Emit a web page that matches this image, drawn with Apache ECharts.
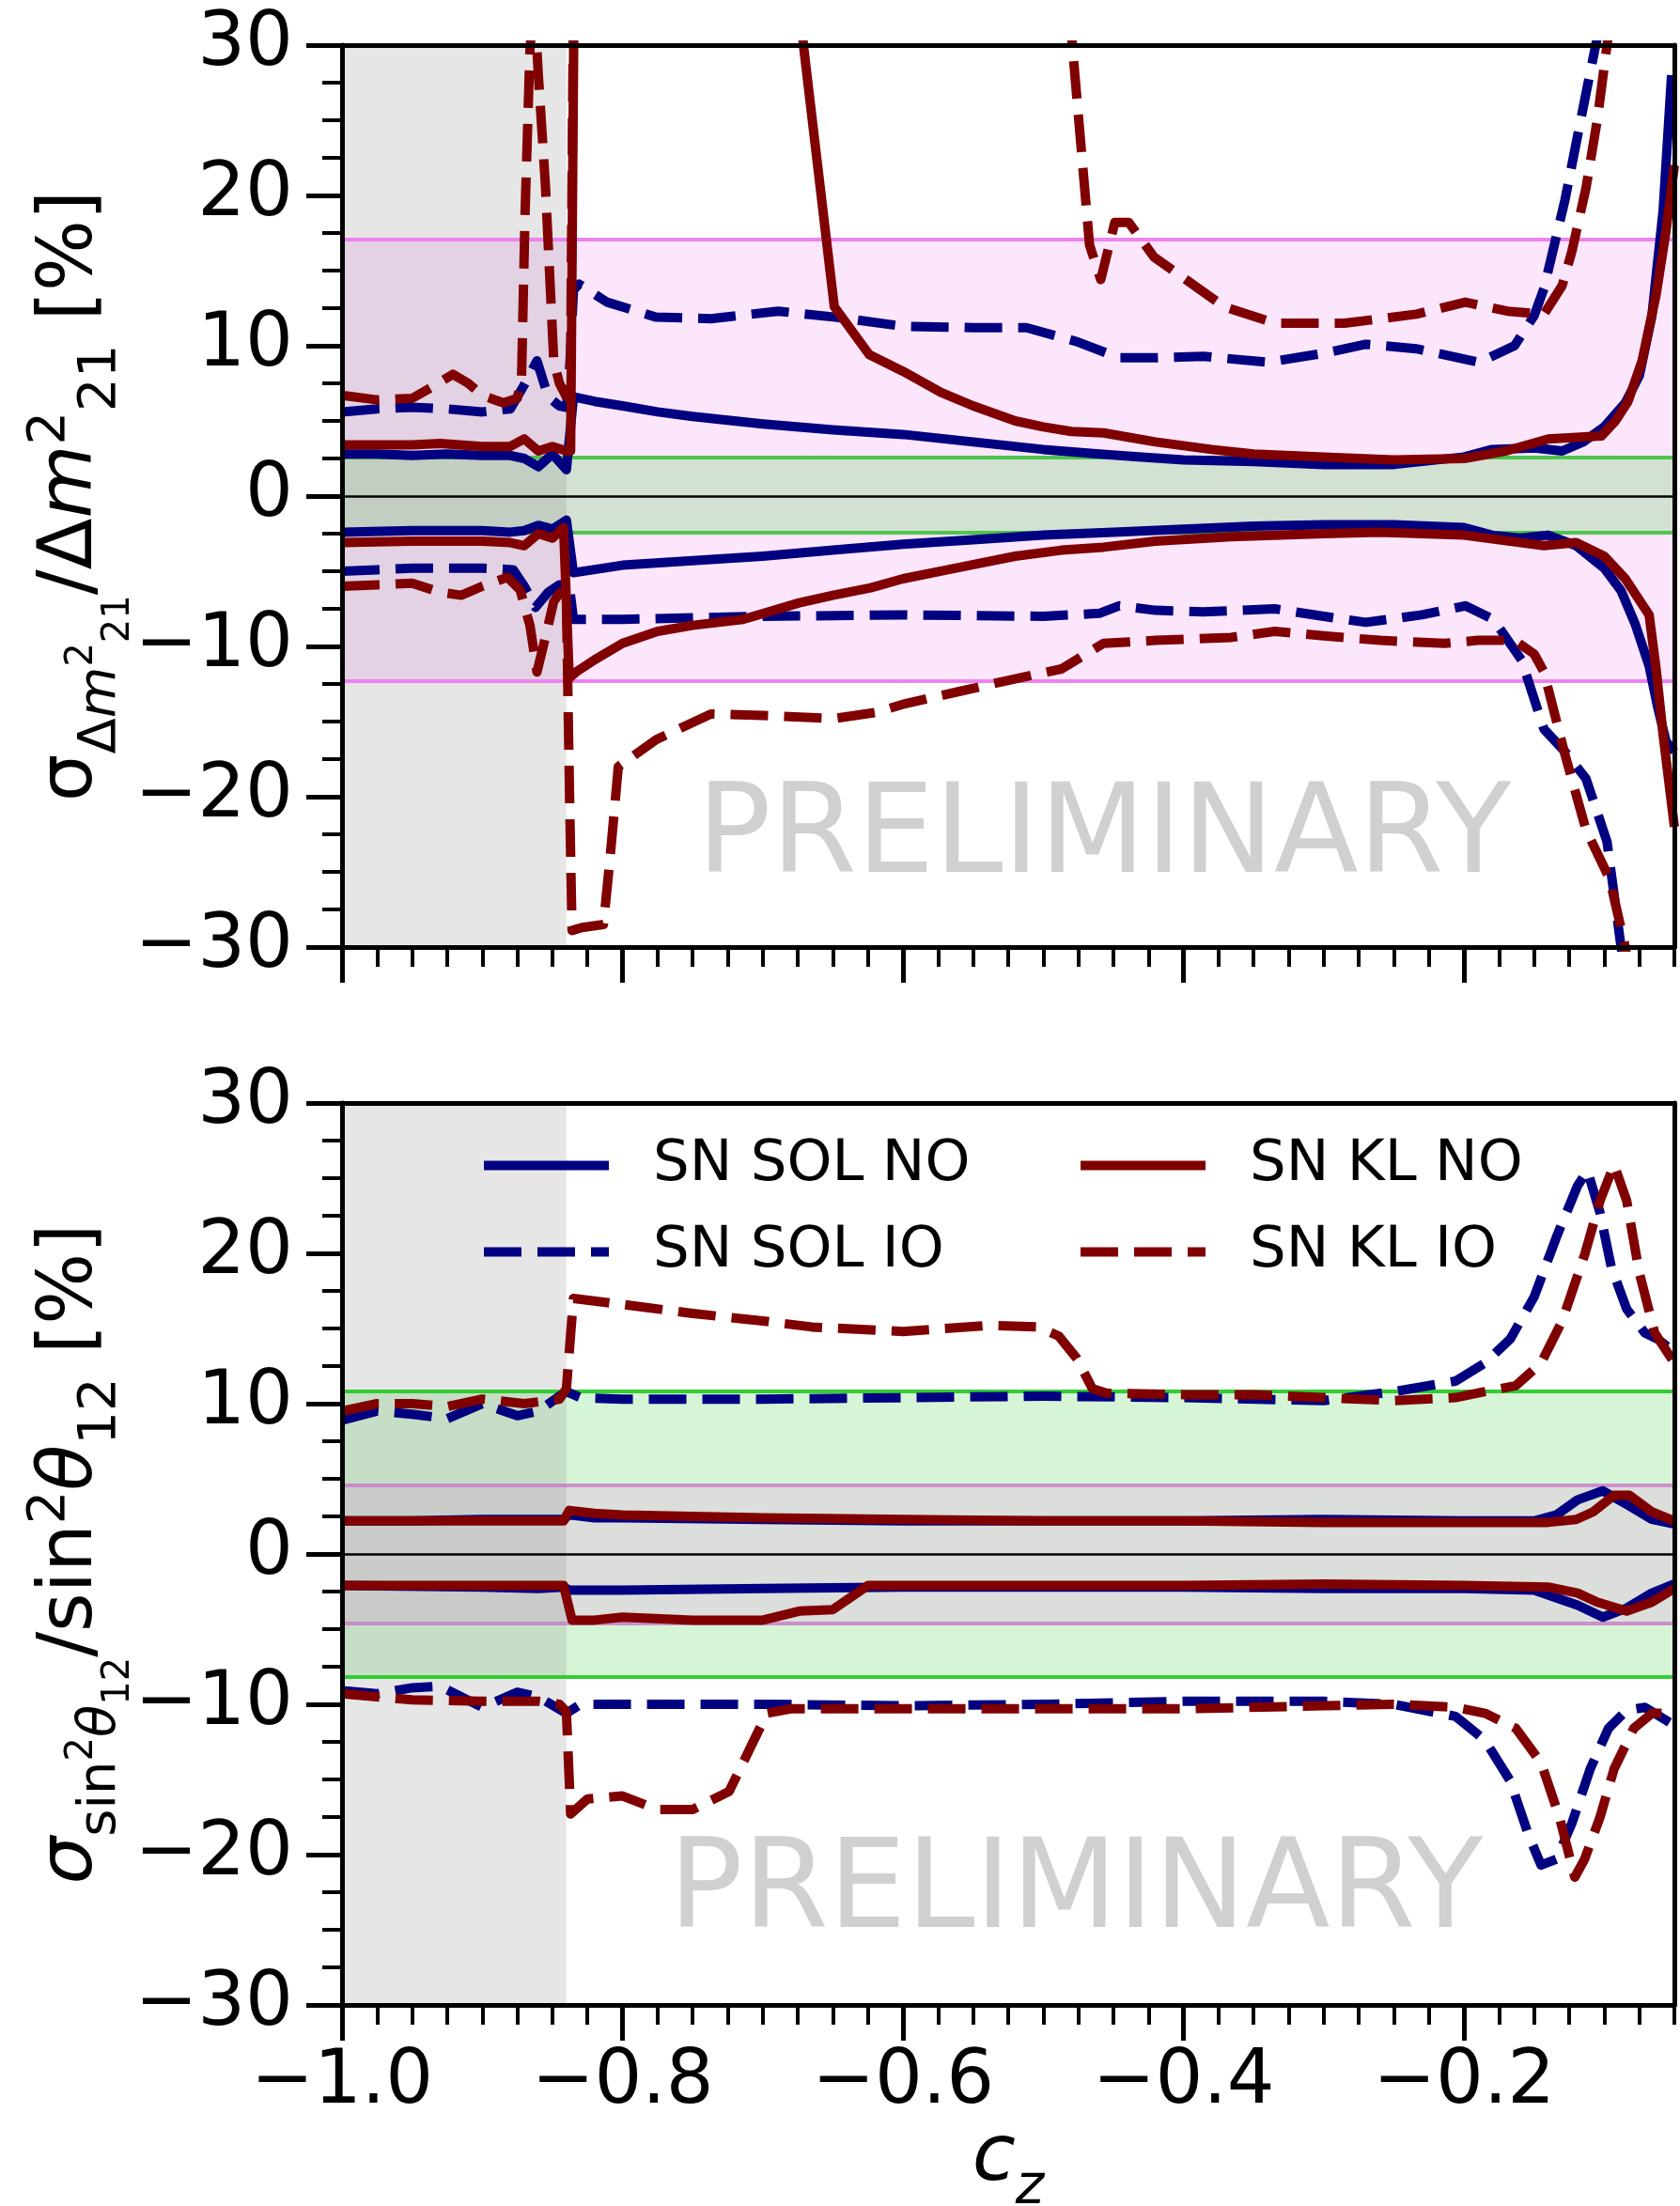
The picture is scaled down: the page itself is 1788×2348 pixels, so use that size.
<!DOCTYPE html>
<html>
<head>
<meta charset="utf-8">
<script src="https://cdn.jsdelivr.net/npm/echarts@6/dist/echarts.min.js"></script>
<style>
  html, body { margin: 0; padding: 0; background: #fff; }
  #chart { width: 1788px; height: 2348px; }
</style>
</head>
<body>
<div id="chart"></div>
<script>
// --- top panel: sigma(dm21^2)/dm21^2 [%] ---
var topSolNoUp = [[-1.0, 2.8], [-0.975, 2.8], [-0.95, 2.7], [-0.925, 2.8], [-0.9, 2.7], [-0.88, 2.7], [-0.87, 2.5], [-0.86, 1.95], [-0.85, 2.8], [-0.84, 1.75], [-0.835, 6.6], [-0.82, 6.3], [-0.8, 6.0], [-0.775, 5.6], [-0.75, 5.3], [-0.7, 4.8], [-0.65, 4.4], [-0.6, 4.1], [-0.55, 3.6], [-0.5, 3.1], [-0.46, 2.8], [-0.43, 2.6], [-0.4, 2.4], [-0.35, 2.3], [-0.3, 2.1], [-0.25, 2.1], [-0.2, 2.6], [-0.18, 3.1], [-0.15, 3.2], [-0.13, 3.0], [-0.115, 3.6], [-0.1, 4.6], [-0.085, 6.2], [-0.075, 8.0], [-0.066, 12], [-0.058, 19], [-0.052, 28]];
var topSolNoLo = [[-1.0, -2.4], [-0.95, -2.3], [-0.9, -2.3], [-0.88, -2.4], [-0.87, -2.3], [-0.86, -1.95], [-0.85, -2.2], [-0.84, -1.6], [-0.835, -5.1], [-0.8, -4.6], [-0.75, -4.3], [-0.7, -4.0], [-0.65, -3.6], [-0.6, -3.2], [-0.55, -2.9], [-0.5, -2.6], [-0.45, -2.4], [-0.4, -2.2], [-0.35, -2.0], [-0.3, -1.9], [-0.25, -1.9], [-0.2, -2.1], [-0.18, -2.6], [-0.16, -2.8], [-0.14, -2.6], [-0.12, -3.3], [-0.1, -4.8], [-0.088, -6.3], [-0.078, -8.5], [-0.068, -11.3], [-0.062, -14], [-0.056, -16.3], [-0.05, -17]];
var topKlNoUp = [[-1.0, 3.4], [-0.95, 3.4], [-0.93, 3.5], [-0.9, 3.3], [-0.88, 3.3], [-0.87, 3.8], [-0.86, 3.0], [-0.85, 3.3], [-0.84, 3.0], [-0.837, 3.0], [-0.834, 40], [-0.68, 40], [-0.671, 30], [-0.649, 12.6], [-0.624, 9.4], [-0.6, 8.3], [-0.573, 6.9], [-0.55, 6.0], [-0.52, 5.0], [-0.5, 4.6], [-0.48, 4.3], [-0.457, 4.2], [-0.42, 3.6], [-0.38, 3.1], [-0.35, 2.8], [-0.3, 2.6], [-0.25, 2.4], [-0.2, 2.5], [-0.17, 3.0], [-0.14, 3.8], [-0.12, 3.9], [-0.102, 4.0], [-0.092, 5.0], [-0.083, 6.3], [-0.073, 9.0], [-0.063, 13.4], [-0.056, 17.6], [-0.05, 22]];
var topKlNoLo = [[-1.0, -3.1], [-0.95, -3.0], [-0.9, -3.0], [-0.88, -3.1], [-0.87, -3.3], [-0.86, -2.5], [-0.85, -2.8], [-0.842, -2.1], [-0.838, -12.1], [-0.833, -11.7], [-0.82, -10.9], [-0.8, -9.8], [-0.775, -9.0], [-0.75, -8.6], [-0.714, -8.2], [-0.674, -7.1], [-0.65, -6.6], [-0.623, -6.1], [-0.6, -5.5], [-0.563, -4.8], [-0.52, -4.0], [-0.487, -3.6], [-0.457, -3.4], [-0.42, -3.0], [-0.366, -2.7], [-0.3, -2.5], [-0.26, -2.4], [-0.2, -2.6], [-0.143, -3.3], [-0.12, -3.1], [-0.1, -4.0], [-0.085, -5.5], [-0.068, -7.9], [-0.063, -11.5], [-0.058, -15.9], [-0.05, -22]];
var topSolIoUp = [[-1.0, 5.6], [-0.975, 5.8], [-0.95, 5.9], [-0.925, 5.8], [-0.9, 5.6], [-0.88, 5.8], [-0.87, 7.4], [-0.861, 9.0], [-0.853, 6.6], [-0.845, 6.0], [-0.84, 5.9], [-0.838, 7.8], [-0.835, 13.7], [-0.831, 14.1], [-0.811, 12.9], [-0.776, 11.9], [-0.737, 11.8], [-0.689, 12.3], [-0.648, 11.9], [-0.6, 11.3], [-0.55, 11.2], [-0.512, 11.2], [-0.477, 10.3], [-0.446, 9.2], [-0.42, 9.2], [-0.386, 9.3], [-0.34, 8.9], [-0.3, 9.5], [-0.27, 10.1], [-0.234, 9.8], [-0.189, 8.9], [-0.164, 10.0], [-0.15, 12.0], [-0.143, 13.8], [-0.128, 19.7], [-0.113, 26.8], [-0.105, 30.5], [-0.1, 33]];
var topSolIoLo = [[-1.0, -5.0], [-0.975, -4.9], [-0.95, -4.8], [-0.9, -4.8], [-0.878, -4.9], [-0.87, -6.0], [-0.862, -7.4], [-0.853, -6.4], [-0.845, -5.9], [-0.838, -5.9], [-0.835, -8.2], [-0.8, -8.2], [-0.75, -8.1], [-0.7, -8.0], [-0.6, -7.9], [-0.5, -8.0], [-0.46, -7.8], [-0.446, -7.3], [-0.42, -7.6], [-0.386, -7.7], [-0.335, -7.5], [-0.3, -8.0], [-0.27, -8.4], [-0.23, -7.9], [-0.199, -7.3], [-0.179, -8.2], [-0.159, -10.9], [-0.143, -15.5], [-0.128, -17.0], [-0.113, -18.8], [-0.098, -23.0], [-0.088, -30], [-0.08, -34]];
var topKlIoUp = [[-1.0, 6.7], [-0.975, 6.4], [-0.95, 6.5], [-0.935, 7.3], [-0.921, 8.1], [-0.91, 7.5], [-0.9, 6.7], [-0.885, 6.2], [-0.875, 6.5], [-0.872, 7.8], [-0.8695, 18.75], [-0.866, 29.7], [-0.863, 33], [-0.86, 28], [-0.855, 20.7], [-0.851, 12.9], [-0.849, 9.0], [-0.845, 7.5], [-0.84, 6.6], [-0.837, 9], [-0.834, 45], [-0.49, 42], [-0.479, 29.7], [-0.467, 16.7], [-0.459, 14.4], [-0.449, 18.2], [-0.439, 18.2], [-0.421, 15.9], [-0.371, 12.6], [-0.335, 11.5], [-0.285, 11.5], [-0.234, 12.1], [-0.199, 12.9], [-0.169, 12.3], [-0.143, 12.1], [-0.13, 14], [-0.123, 16.3], [-0.113, 20.5], [-0.105, 25], [-0.098, 30], [-0.09, 36]];
var topKlIoLo = [[-1.0, -6.0], [-0.975, -5.9], [-0.95, -5.8], [-0.93, -6.4], [-0.915, -6.6], [-0.9, -6.0], [-0.882, -5.4], [-0.873, -6.25], [-0.866, -8.6], [-0.861, -11.7], [-0.855, -9.4], [-0.849, -7.0], [-0.843, -6.25], [-0.84, -7.0], [-0.8377, -20.3], [-0.836, -28.9], [-0.829, -28.7], [-0.8136, -28.5], [-0.809, -24.2], [-0.803, -18.0], [-0.776, -16.2], [-0.737, -14.5], [-0.7, -14.6], [-0.649, -14.8], [-0.62, -14.4], [-0.598, -13.8], [-0.56, -13.0], [-0.527, -12.3], [-0.487, -11.5], [-0.457, -9.8], [-0.42, -9.6], [-0.366, -9.4], [-0.335, -9.0], [-0.3, -9.3], [-0.26, -9.6], [-0.214, -9.8], [-0.19, -9.6], [-0.164, -9.6], [-0.15, -10.5], [-0.143, -11.7], [-0.128, -17.2], [-0.113, -22.2], [-0.096, -25.5], [-0.085, -30], [-0.08, -33]];

// --- bottom panel: sigma(sin^2 th12)/sin^2 th12 [%] ---
var botSolNoUp = [[-1.0, 2.2], [-0.95, 2.2], [-0.9, 2.3], [-0.86, 2.3], [-0.842, 2.3], [-0.838, 2.6], [-0.82, 2.4], [-0.8, 2.4], [-0.7, 2.3], [-0.6, 2.2], [-0.5, 2.2], [-0.4, 2.2], [-0.3, 2.3], [-0.2, 2.2], [-0.15, 2.2], [-0.134, 2.6], [-0.119, 3.6], [-0.101, 4.2], [-0.084, 3.3], [-0.066, 2.3], [-0.05, 2.0]];
var botSolNoLo = [[-1.0, -2.1], [-0.9, -2.2], [-0.86, -2.3], [-0.842, -2.2], [-0.838, -2.4], [-0.8, -2.4], [-0.7, -2.3], [-0.6, -2.2], [-0.5, -2.2], [-0.4, -2.2], [-0.3, -2.3], [-0.2, -2.3], [-0.15, -2.4], [-0.119, -3.4], [-0.101, -4.2], [-0.084, -3.6], [-0.066, -2.6], [-0.05, -2.0]];
var botKlNoUp = [[-1.0, 2.2], [-0.95, 2.2], [-0.9, 2.2], [-0.86, 2.2], [-0.842, 2.2], [-0.838, 2.9], [-0.82, 2.7], [-0.8, 2.6], [-0.7, 2.4], [-0.6, 2.3], [-0.5, 2.2], [-0.4, 2.2], [-0.3, 2.1], [-0.2, 2.1], [-0.14, 2.1], [-0.12, 2.3], [-0.108, 2.8], [-0.093, 3.9], [-0.082, 3.9], [-0.066, 2.8], [-0.05, 2.2]];
var botKlNoLo = [[-1.0, -2.1], [-0.9, -2.1], [-0.86, -2.1], [-0.842, -2.1], [-0.836, -4.4], [-0.82, -4.4], [-0.8, -4.2], [-0.75, -4.4], [-0.7, -4.4], [-0.674, -3.8], [-0.65, -3.7], [-0.625, -2.1], [-0.6, -2.1], [-0.5, -2.1], [-0.4, -2.1], [-0.3, -2.0], [-0.2, -2.1], [-0.14, -2.2], [-0.119, -2.6], [-0.105, -3.2], [-0.084, -3.8], [-0.066, -3.2], [-0.05, -2.3]];
var botSolIoUp = [[-1.0, 8.9], [-0.975, 9.5], [-0.95, 9.3], [-0.925, 9.0], [-0.9, 10.0], [-0.875, 9.2], [-0.86, 9.5], [-0.845, 10.5], [-0.84, 10.8], [-0.83, 10.4], [-0.8, 10.3], [-0.7, 10.3], [-0.6, 10.4], [-0.5, 10.5], [-0.4, 10.4], [-0.3, 10.2], [-0.25, 10.8], [-0.206, 11.5], [-0.185, 12.7], [-0.167, 14.3], [-0.15, 17.1], [-0.134, 21.1], [-0.119, 24.5], [-0.112, 25.5], [-0.103, 22.7], [-0.095, 19.1], [-0.084, 16.3], [-0.071, 14.7], [-0.062, 14.3], [-0.055, 13.8]];
var botSolIoLo = [[-1.0, -9.1], [-0.975, -9.3], [-0.95, -8.9], [-0.93, -8.8], [-0.9, -10.2], [-0.875, -9.2], [-0.86, -9.5], [-0.84, -10.6], [-0.83, -10.0], [-0.8, -10.0], [-0.7, -10.0], [-0.6, -10.1], [-0.5, -10.0], [-0.4, -9.8], [-0.3, -9.8], [-0.25, -10.0], [-0.206, -10.8], [-0.185, -12.4], [-0.167, -15.1], [-0.154, -18.7], [-0.145, -20.7], [-0.134, -20.3], [-0.123, -17.9], [-0.11, -14.3], [-0.097, -11.6], [-0.084, -10.4], [-0.071, -10.2], [-0.05, -11.4]];
var botKlIoUp = [[-1.0, 9.5], [-0.975, 10.0], [-0.95, 10.0], [-0.925, 9.8], [-0.9, 10.3], [-0.87, 10.0], [-0.845, 10.3], [-0.84, 11.0], [-0.835, 17.0], [-0.8, 16.6], [-0.75, 16.0], [-0.7, 15.5], [-0.665, 15.1], [-0.6, 14.8], [-0.538, 15.2], [-0.504, 15.1], [-0.489, 14.5], [-0.476, 13.0], [-0.465, 11.0], [-0.455, 10.7], [-0.4, 10.6], [-0.35, 10.6], [-0.3, 10.4], [-0.25, 10.2], [-0.206, 10.4], [-0.185, 10.8], [-0.163, 11.2], [-0.145, 12.7], [-0.13, 15.5], [-0.114, 19.9], [-0.103, 23.5], [-0.093, 25.9], [-0.084, 23.5], [-0.075, 18.7], [-0.064, 14.7], [-0.05, 12.7]];
var botKlIoLo = [[-1.0, -9.3], [-0.95, -9.7], [-0.9, -9.8], [-0.86, -9.8], [-0.845, -10.0], [-0.84, -10.5], [-0.837, -17.3], [-0.825, -16.3], [-0.8, -16.1], [-0.775, -17.0], [-0.75, -17.0], [-0.724, -15.8], [-0.697, -10.6], [-0.68, -10.3], [-0.6, -10.3], [-0.5, -10.3], [-0.4, -10.3], [-0.3, -10.1], [-0.25, -10.0], [-0.206, -10.2], [-0.185, -10.6], [-0.163, -11.6], [-0.145, -13.9], [-0.132, -17.5], [-0.121, -21.5], [-0.114, -20.3], [-0.103, -17.5], [-0.093, -14.3], [-0.079, -11.6], [-0.066, -10.6], [-0.05, -10.6]];

// bands [upper, lower] and shaded cz range
var topOuterBand = [17.1, -12.3];
var topInnerBand = [2.6, -2.4];
var botOuterBand = [10.8, -8.2];
var botInnerBand = [4.6, -4.6];
var shadedCz = [-1.0, -0.84];

var xTicks = [-1.0, -0.8, -0.6, -0.4, -0.2];
var xRange = [-1.0, -0.05];
var yRange = [-30, 30];

var FONT = 'DejaVu Sans';
var NAVY = '#000080', DRED = '#800000';
var DASH = [40, 17];

var myChart = echarts.init(document.getElementById('chart'));

function minusFmt(v, dec) {
    var s = dec ? Math.abs(v).toFixed(dec) : String(Math.abs(v));
    return (v < 0 ? '\u2212' : '') + s;
}

// rich token styles; vertical offsets done with padding (top pad = push down, bottom pad = lift up)
function tk(size, italic, pad) {
    return { fontSize: size, lineHeight: size, fontFamily: FONT, fill: '#000', fontStyle: italic ? 'italic' : 'normal', padding: pad || [0, 0, 0, 0] };
}
var titleRich = {
    n: tk(80), i: tk(80, true),
    sup: tk(56, false, [0, 0, 45, 0]),
    sub: tk(56, false, [63, 0, 0, 0]),
    ss: tk(56, false, [63, 0, 0, 0]), ssi: tk(56, true, [63, 0, 0, 0]),
    tsup: tk(40, false, [24, 0, 0, 0]), tsub: tk(40, false, [102, 0, 0, 0])
};
var xTitleRich = { c: tk(84, true), z: tk(58, true, [64, 0, 0, 0]) };

var grids = [
    { left: 364, top: 48, width: 1418, height: 960 },
    { left: 364, top: 1174, width: 1418, height: 960 }
];

var xAxes = [], yAxes = [];
[0, 1].forEach(function (g) {
    // main x axis: line, major ticks, labels
    xAxes.push({
        type: 'value', gridIndex: g, position: 'bottom', min: xRange[0], max: xRange[1], interval: 0.2, z: 10,
        axisLine: { show: true, onZero: false, lineStyle: { color: '#000', width: 5 } },
        axisTick: { show: true, inside: false, length: 38, customValues: xTicks, lineStyle: { color: '#000', width: 5 } },
        axisLabel: {
            show: g === 1, customValues: xTicks, margin: 43, fontSize: 80, fontFamily: FONT, color: '#000',
            formatter: function (v) { return minusFmt(v, 1); }
        },
        splitLine: { show: false }
    });
    // minor x ticks
    xAxes.push({
        type: 'value', gridIndex: g, position: 'bottom', min: xRange[0], max: xRange[1], interval: 0.025, z: 10,
        axisLine: { show: false, onZero: false },
        axisTick: { show: true, inside: false, length: 21, lineStyle: { color: '#000', width: 4 } },
        axisLabel: { show: false }, splitLine: { show: false }
    });
    // top spine
    xAxes.push({
        type: 'value', gridIndex: g, position: 'top', min: xRange[0], max: xRange[1], z: 10,
        axisLine: { show: true, onZero: false, lineStyle: { color: '#000', width: 5 } },
        axisTick: { show: false }, axisLabel: { show: false }, splitLine: { show: false }
    });
    yAxes.push({
        type: 'value', gridIndex: g, position: 'left', min: yRange[0], max: yRange[1], interval: 10, z: 10,
        axisLine: { show: true, onZero: false, lineStyle: { color: '#000', width: 5 } },
        axisTick: { show: true, inside: false, length: 38, lineStyle: { color: '#000', width: 5 } },
        minorTick: { show: true, splitNumber: 4, length: 21, lineStyle: { color: '#000', width: 4 } },
        axisLabel: { margin: 52, fontSize: 80, fontFamily: FONT, color: '#000', formatter: function (v) { return minusFmt(v); } },
        splitLine: { show: false }
    });
    // right spine
    yAxes.push({
        type: 'value', gridIndex: g, position: 'right', min: yRange[0], max: yRange[1], z: 10,
        axisLine: { show: true, onZero: false, lineStyle: { color: '#000', width: 5 } },
        axisTick: { show: false }, axisLabel: { show: false }, splitLine: { show: false }
    });
});

function bandAreas(outer, inner, outerColor, innerColor) {
    return {
        silent: true, z: 1,
        data: [
            [{ yAxis: outer[0], itemStyle: { color: outerColor } }, { yAxis: outer[1] }],
            [{ yAxis: inner[0], itemStyle: { color: innerColor } }, { yAxis: inner[1] }],
            [{ xAxis: shadedCz[0], itemStyle: { color: 'rgba(128,128,128,0.2)' } }, { xAxis: shadedCz[1] }]
        ]
    };
}
function bandLines(outer, inner, outerColor, innerColor) {
    var d = [];
    outer.forEach(function (v) { d.push({ yAxis: v, lineStyle: { color: outerColor, width: 4, type: 'solid' } }); });
    inner.forEach(function (v) { d.push({ yAxis: v, lineStyle: { color: innerColor, width: 4, type: 'solid' } }); });
    d.push({ yAxis: 0, lineStyle: { color: '#000', width: 2.5, type: 'solid' } });
    return { silent: true, z: 1.5, symbol: ['none', 'none'], label: { show: false }, data: d, animation: false };
}

function curve(name, g, data, color, dashed, extra) {
    var s = {
        name: name, type: 'line', xAxisIndex: g * 3, yAxisIndex: g * 2, data: data,
        symbol: 'none', z: 2, silent: true, animation: false,
        itemStyle: { color: color },
        lineStyle: { color: color, width: 10, type: dashed ? DASH : 'solid', join: 'round' }
    };
    if (extra) Object.assign(s, extra);
    return s;
}

var series = [
    curve('SN SOL NO', 0, topSolNoUp, NAVY, false, {
        markArea: bandAreas(topOuterBand, topInnerBand, 'rgba(238,130,238,0.2)', 'rgba(50,205,50,0.2)'),
        markLine: bandLines(topOuterBand, topInnerBand, '#ee82ee', 'rgba(50,190,50,0.85)')
    }),
    curve('SN SOL NO', 0, topSolNoLo, NAVY, false),
    curve('SN SOL IO', 0, topSolIoUp, NAVY, true),
    curve('SN SOL IO', 0, topSolIoLo, NAVY, true),
    curve('SN KL NO', 0, topKlNoUp, DRED, false),
    curve('SN KL NO', 0, topKlNoLo, DRED, false),
    curve('SN KL IO', 0, topKlIoUp, DRED, true),
    curve('SN KL IO', 0, topKlIoLo, DRED, true),

    curve('SN SOL NO', 1, botSolNoUp, NAVY, false, {
        markArea: bandAreas(botOuterBand, botInnerBand, 'rgba(50,205,50,0.2)', 'rgba(238,130,238,0.2)'),
        markLine: bandLines(botOuterBand, botInnerBand, '#32cd32', 'rgba(200,120,200,0.8)')
    }),
    curve('SN SOL NO', 1, botSolNoLo, NAVY, false),
    curve('SN SOL IO', 1, botSolIoUp, NAVY, true),
    curve('SN SOL IO', 1, botSolIoLo, NAVY, true),
    curve('SN KL NO', 1, botKlNoUp, DRED, false),
    curve('SN KL NO', 1, botKlNoLo, DRED, false),
    curve('SN KL IO', 1, botKlIoUp, DRED, true),
    curve('SN KL IO', 1, botKlIoLo, DRED, true)
];

function legendAt(left, names) {
    return {
        show: true, orient: 'vertical', left: left, top: 1210, padding: 0,
        itemWidth: 133, itemHeight: 20, itemGap: 31, selectedMode: false,
        data: names,
        lineStyle: { width: 10 },
        itemStyle: { color: 'rgba(0,0,0,0)', borderWidth: 0, opacity: 0 },
        textStyle: { fontSize: 61, lineHeight: 61, fontFamily: FONT, color: '#000', padding: [0, 0, 0, 42] }
    };
}

function titleText(x, y, rot, text, rich) {
    return {
        type: 'text', x: x, y: y, rotation: rot, z: 20, silent: true,
        style: { text: text, rich: rich, fontFamily: FONT, fontSize: 80, fill: '#000', align: 'center', verticalAlign: 'middle' }
    };
}
function watermark(x, y) {
    return {
        type: 'text', x: x, y: y, z: 1, silent: true,
        style: { text: 'PRELIMINARY', fontSize: 131, fontFamily: FONT, fill: '#d0d0d0', align: 'center', verticalAlign: 'middle' }
    };
}

var option = {
    backgroundColor: '#fff',
    animation: false,
    grid: grids,
    xAxis: xAxes,
    yAxis: yAxes,
    legend: [legendAt(510, ['SN SOL NO', 'SN SOL IO']), legendAt(1145, ['SN KL NO', 'SN KL IO'])],
    graphic: [
        watermark(1175, 894),
        watermark(1145, 2017),
        titleText(76, 528, Math.PI / 2,
            '{n|\u03c3}{ss|\u0394}{ssi|m}{tsup|2}{tsub|21}{n|/\u0394}{i|m}{sup|2}{sub|21}{n| [%]}', titleRich),
        titleText(76, 1654, Math.PI / 2,
            '{i|\u03c3}{ss|sin}{tsup|2}{ssi|\u03b8}{tsub|12}{n|/sin}{sup|2}{i|\u03b8}{sub|12}{n| [%]}', titleRich),
        titleText(1073, 2298, 0, '{c|c}{z|z}', xTitleRich)
    ],
    series: series
};
myChart.setOption(option);
window.addEventListener('resize', function () { myChart.resize(); });
</script>
</body>
</html>
